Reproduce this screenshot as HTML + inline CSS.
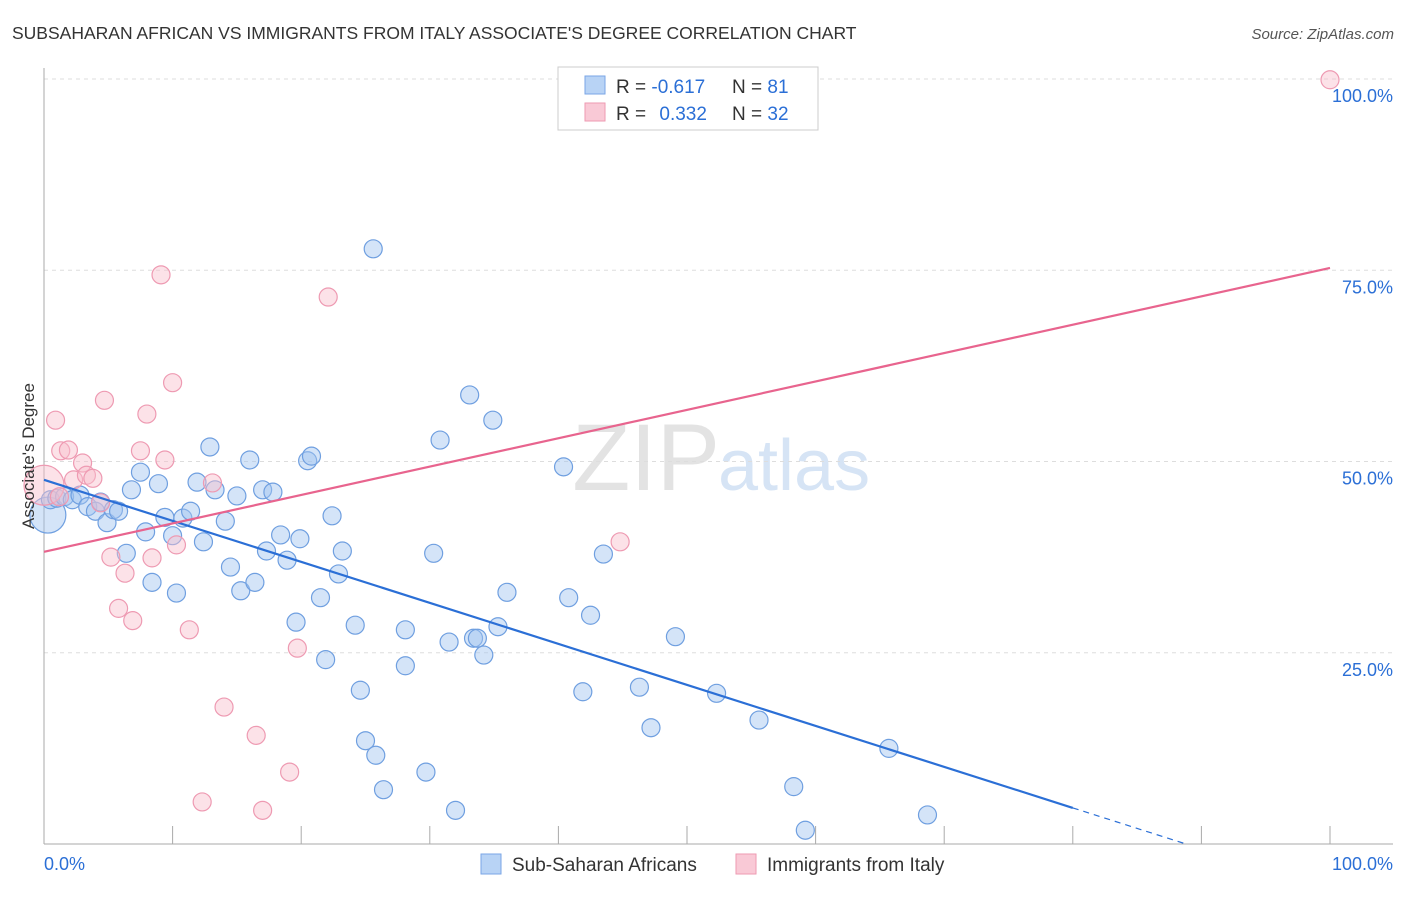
<!DOCTYPE html>
<html><head><meta charset="utf-8"><style>
body{margin:0;background:#fff;font-family:"Liberation Sans",sans-serif;}
svg text{font-family:"Liberation Sans",sans-serif;}
</style></head><body>
<svg id="chart" width="1406" height="892" xmlns="http://www.w3.org/2000/svg">
<text x="12" y="39" font-size="17.5" fill="#333">SUBSAHARAN AFRICAN VS IMMIGRANTS FROM ITALY ASSOCIATE'S DEGREE CORRELATION CHART</text>
<text x="1394" y="39" font-size="15" fill="#555" font-style="italic" text-anchor="end">Source: ZipAtlas.com</text>
<text x="720" y="490" font-size="95" fill="#e3e3e3" font-family="Liberation Serif" text-anchor="end">ZIP</text>
<text x="718" y="490" font-size="72" fill="#d6e4f5">atlas</text>
<g id="grid"></g>
<g id="axes"></g>
<g id="pts"></g>
<g id="trend"></g>
<text transform="translate(34,456) rotate(-90)" font-size="17" fill="#333" text-anchor="middle">Associate's Degree</text>
<g>
<rect x="558" y="67" width="260" height="63" fill="#fff" stroke="#ccc"/>
<rect x="585" y="76" width="20" height="18" fill="#b8d3f5" stroke="#7aa6e6"/>
<rect x="585" y="103" width="20" height="18" fill="#f9c9d6" stroke="#ee9ab2"/>
<text x="616" y="93" font-size="19" fill="#333">R = <tspan fill="#2b6fd6">-0.617</tspan></text>
<text x="732" y="93" font-size="19" fill="#333">N = <tspan fill="#2b6fd6">81</tspan></text>
<text x="616" y="120" font-size="19" fill="#333">R = <tspan fill="#2b6fd6" dx="8">0.332</tspan></text>
<text x="732" y="120" font-size="19" fill="#333">N = <tspan fill="#2b6fd6">32</tspan></text>
</g>
<g>
<rect x="481" y="854" width="20" height="20" fill="#b8d3f5" stroke="#7aa6e6"/>
<text x="512" y="871" font-size="19" fill="#333">Sub-Saharan Africans</text>
<rect x="736" y="854" width="20" height="20" fill="#f9c9d6" stroke="#ee9ab2"/>
<text x="767" y="871" font-size="19" fill="#333">Immigrants from Italy</text>
</g>
</svg>
<script>
const blueX=[0.3,0.5,1.0,1.6,2.2,2.8,3.4,4.0,4.4,4.9,5.4,5.8,6.4,6.8,7.5,7.9,8.4,8.9,9.4,10.0,10.3,10.8,11.4,11.9,12.4,12.9,13.3,14.1,14.5,15.0,15.3,16.0,16.4,17.0,17.3,17.8,18.4,18.9,19.6,19.9,20.5,20.8,21.5,21.9,22.4,22.9,23.2,24.2,24.6,25.0,25.6,25.8,26.4,28.1,28.1,29.7,30.3,30.8,31.5,32.0,33.1,33.4,33.7,34.2,34.9,35.3,36.0,40.4,40.8,41.9,42.5,43.5,46.3,47.2,49.1,52.3,55.6,58.3,59.2,65.7,68.7];
const blueY=[43.0,45.0,45.2,45.4,45.0,45.6,44.1,43.5,44.7,42.0,43.7,43.5,38.0,46.3,48.6,40.8,34.2,47.1,42.7,40.3,32.8,42.6,43.5,47.3,39.5,51.9,46.3,42.2,36.2,45.5,33.1,50.2,34.2,46.3,38.3,46.0,40.4,37.1,29.0,39.9,50.1,50.7,32.2,24.1,42.9,35.3,38.3,28.6,20.1,13.5,77.8,11.6,7.1,28.0,23.3,9.4,38.0,52.8,26.4,4.4,58.7,26.9,26.9,24.7,55.4,28.4,32.9,49.3,32.2,19.9,29.9,37.9,20.5,15.2,27.1,19.7,16.2,7.5,1.8,12.5,3.8];
const pinkX=[0,0.9,1.3,1.9,2.3,3.0,3.3,3.8,1.2,4.4,4.7,5.2,5.8,6.3,6.9,7.5,8.0,8.4,9.1,9.4,10.0,10.3,11.3,13.1,14.0,12.3,16.5,17.0,19.1,19.7,22.1,44.8,100];
const pinkY=[46.9,55.4,51.4,51.5,47.6,49.8,48.2,47.8,45.4,44.6,58.0,37.5,30.8,35.4,29.2,51.4,56.2,37.4,74.4,50.2,60.3,39.1,28.0,47.2,17.9,5.5,14.2,4.4,9.4,25.6,71.5,39.5,99.9];
const blueTrend=[47.6,-0.536];
const pinkTrend=[38.2,0.371];
const yTicks=[25,50,75,100];
const yTickLabels=["25.0%","50.0%","75.0%","100.0%"];
const xTicks=[0,10,20,30,40,50,60,70,80,90,100];
const xs=v=>44+v*12.86, ys=v=>844-v*7.65;
const NS="http://www.w3.org/2000/svg";
function mk(t,a,p){const e=document.createElementNS(NS,t);for(const k in a)e.setAttribute(k,a[k]);p.appendChild(e);return e;}
const grid=document.getElementById('grid'),axes=document.getElementById('axes'),pts=document.getElementById('pts'),tr=document.getElementById('trend');
yTicks.forEach((v,i)=>{
 const l=mk('line',{x1:44,x2:1393,y1:ys(v),y2:ys(v),stroke:'#ddd','stroke-dasharray':'4,4'},grid);
 
 
 const t=mk('text',{x:1393,y:ys(v)+23,'font-size':18,fill:'#2b6fd6','text-anchor':'end'},grid);
 t.textContent=yTickLabels[i];
 
 
});
const ax=mk('line',{x1:44,x2:44,y1:68,y2:844,stroke:'#aaa'},axes);


const bx=mk('line',{x1:44,x2:1393,y1:844,y2:844,stroke:'#aaa'},axes);


xTicks.forEach(v=>{
 const t=mk('line',{x1:xs(v),x2:xs(v),y1:826,y2:844,stroke:'#aaa'},axes);
 
 
});
const xl0=mk('text',{x:44,y:870,'font-size':18,fill:'#2b6fd6'},axes);xl0.textContent='0.0%';


const xl1=mk('text',{x:1393,y:870,'font-size':18,fill:'#2b6fd6','text-anchor':'end'},axes);xl1.textContent='100.0%';


blueX.forEach((x,i)=>{
 const c=mk('circle',{cx:xs(x),cy:ys(blueY[i]),r:i==0?18:9,fill:'rgba(160,196,240,0.45)',stroke:'#6f9fe0','stroke-width':1.2},pts);
 
 
});
pinkX.forEach((x,i)=>{
 const c=mk('circle',{cx:xs(x),cy:ys(pinkY[i]),r:i==0?20:9,fill:'rgba(248,190,205,0.45)',stroke:'#ee9ab2','stroke-width':1.2},pts);
 
 
});
const bl=mk('line',{x1:xs(0),y1:ys(blueTrend[0]),x2:xs(80),y2:ys(blueTrend[0]+blueTrend[1]*80),stroke:'#2b6fd6','stroke-width':2.2},tr);


const xe=-blueTrend[0]/blueTrend[1];
const bd=mk('line',{x1:xs(80),y1:ys(blueTrend[0]+blueTrend[1]*80),x2:xs(xe),y2:ys(0),stroke:'#2b6fd6','stroke-width':1.2,'stroke-dasharray':'6,5'},tr);


const pl=mk('line',{x1:xs(0),y1:ys(pinkTrend[0]),x2:xs(100),y2:ys(pinkTrend[0]+pinkTrend[1]*100),stroke:'#e8648e','stroke-width':2.2},tr);


</script>
</body></html>
